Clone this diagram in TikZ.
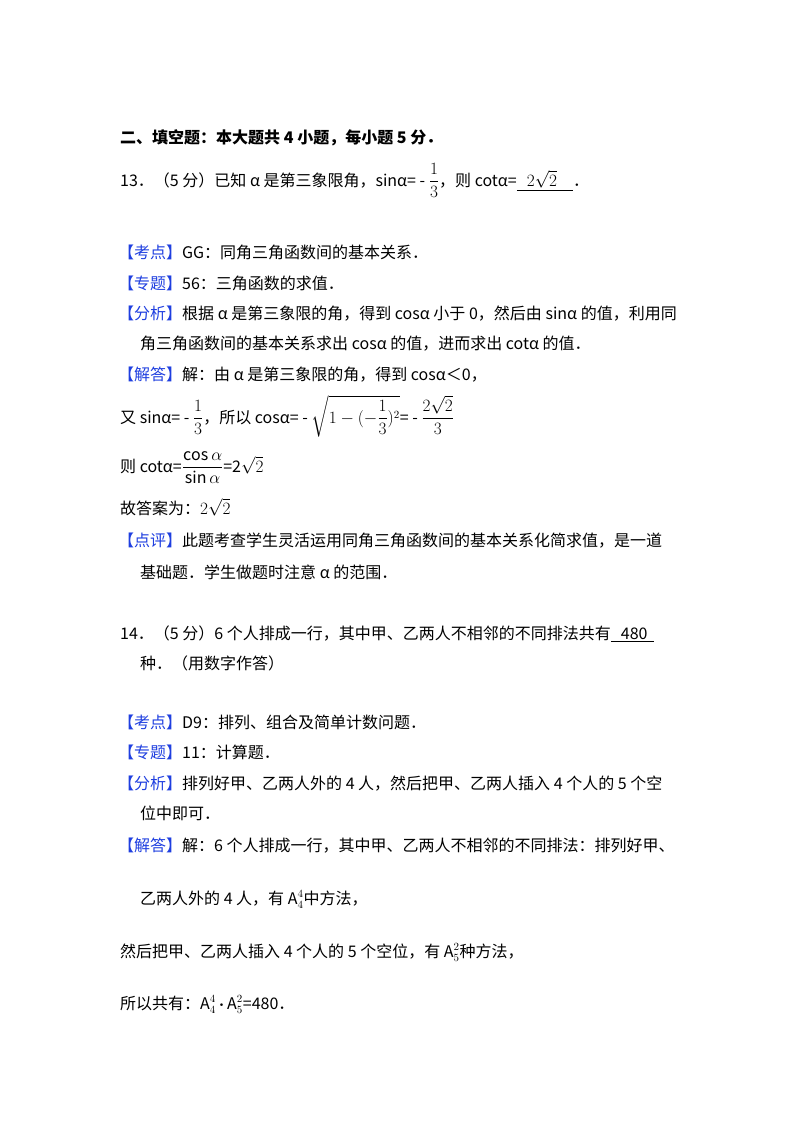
\documentclass[tikz,border=0pt]{standalone}
\usepackage{amsmath}
\usepackage{fontspec}
\setmainfont{Noto Sans CJK SC}
\definecolor{kb}{HTML}{1F3FE0}
\newcommand{\kb}[1]{\textcolor{kb}{【#1】}}
\begin{document}
\begin{tikzpicture}[x=1pt,y=-1pt,t/.style={anchor=base west,inner sep=0pt,font=\fontsize{16}{19}\selectfont}]
\useasboundingbox[fill=white] (0,0) rectangle (800,1132);
\node[t,font=\fontsize{16}{19}\selectfont\bfseries] (h) at (120,143) {二、填空题：本大题共 4 小题，每小题 5 分．};
\node[t] (q13) at (120,186) {13．（5 分）已知 α 是第三象限角，sinα= - $\dfrac{1}{3}$，则 cotα=\underline{\hspace{10pt}$2\sqrt{2}$\hspace{16pt}}．};
\node[t] (a1) at (118,258) {\kb{考点}GG：同角三角函数间的基本关系．};
\node[t] (a2) at (118,289) {\kb{专题}56：三角函数的求值．};
\node[t] (a3) at (118,319) {\kb{分析}根据 α 是第三象限的角，得到 cosα 小于 0，然后由 sinα 的值，利用同};
\node[t] (a4) at (140,349) {角三角函数间的基本关系求出 cosα 的值，进而求出 cotα 的值．};
\node[t] (a5) at (118,380) {\kb{解答}解：由 α 是第三象限的角，得到 cosα＜0，};
\node[t] (a6) at (120,423) {又 sinα= - $\dfrac{1}{3}$，所以 cosα= - $\sqrt{1-(-\dfrac{1}{3})^{2}}$= - $\dfrac{2\sqrt{2}}{3}$};
\node[t] (a7) at (120,472) {则 cotα=$\dfrac{\cos\alpha}{\sin\alpha}$=2$\sqrt{2}$};
\node[t] (a8) at (120,514) {故答案为：$2\sqrt{2}$};
\node[t] (a9) at (118,546) {\kb{点评}此题考查学生灵活运用同角三角函数间的基本关系化简求值，是一道};
\node[t] (a10) at (140,578) {基础题．学生做题时注意 α 的范围．};
\node[t] (q14) at (120,639) {14．（5 分）6 个人排成一行，其中甲、乙两人不相邻的不同排法共有\underline{\hspace{10pt}480\hspace{6pt}}};
\node[t] (q14b) at (140,669) {种．（用数字作答）};
\node[t] (b1) at (118,728) {\kb{考点}D9：排列、组合及简单计数问题．};
\node[t] (b2) at (118,758) {\kb{专题}11：计算题．};
\node[t] (b3) at (118,789) {\kb{分析}排列好甲、乙两人外的 4 人，然后把甲、乙两人插入 4 个人的 5 个空};
\node[t] (b4) at (140,819) {位中即可．};
\node[t] (b5) at (118,851) {\kb{解答}解：6 个人排成一行，其中甲、乙两人不相邻的不同排法：排列好甲、};
\node[t] (b6) at (140,904) {乙两人外的 4 人，有 $\mathrm{A}_{4}^{4}$中方法，};
\node[t] (b7) at (120,957) {然后把甲、乙两人插入 4 个人的 5 个空位，有 $\mathrm{A}_{5}^{2}$种方法，};
\node[t] (b8) at (120,1009) {所以共有：$\mathrm{A}_{4}^{4}\,{\boldsymbol\cdot}\,\mathrm{A}_{5}^{2}$=480．};
\end{tikzpicture}
\end{document}
